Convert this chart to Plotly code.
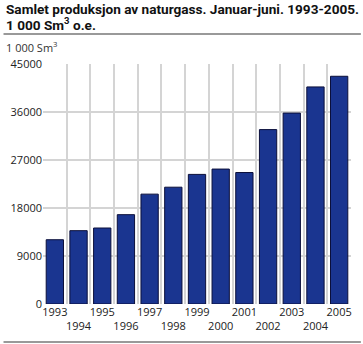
import plotly.graph_objects as go

years = ["1993", "1994", "1995", "1996", "1997", "1998", "1999",
         "2000", "2001", "2002", "2003", "2004", "2005"]
values = [12050, 13750, 14250, 16750, 20600, 21900, 24300,
          25300, 24650, 32700, 35800, 40700, 42700]
y_ticks = [0, 9000, 18000, 27000, 36000, 45000]

idx = list(range(len(years)))
ticktext = [y if i % 2 == 0 else "<br>" + y for i, y in enumerate(years)]
bounds = [i - 0.5 for i in range(len(years) + 1)]

font_family = "Open Sans, DejaVu Sans, sans-serif"
title_family = "Roboto, Open Sans, sans-serif"

fig = go.Figure()
fig.add_trace(go.Bar(
    x=idx, y=values,
    marker=dict(color="#1a3590", line=dict(color="#0b0f3a", width=1)),
    hoverinfo="skip",
))
# empty helper trace so the category-boundary grid axis is drawn
fig.add_trace(go.Scatter(x=[None], y=[None], xaxis="x2", mode="markers",
                         hoverinfo="skip", showlegend=False))

L, R, T, B = 40, 11, 64, 40
PW, PH = 363 - L - R, 344 - T - B


def px_x(px):
    return (px - L) / PW


def px_y(py):
    return (344 - B - py) / PH


fig.update_layout(
    width=363, height=344,
    margin=dict(l=L, r=R, t=T, b=B),
    paper_bgcolor="white", plot_bgcolor="white",
    showlegend=False,
    bargap=0.27,
    font=dict(family=font_family, size=11, color="#222"),
    xaxis=dict(
        range=[-0.5, len(years) - 0.5],
        tickmode="array", tickvals=idx, ticktext=ticktext, tickangle=0,
        showgrid=False, zeroline=False, showline=False, ticks="",
        tickfont=dict(size=11, color="#222"),
    ),
    xaxis2=dict(
        range=[-0.5, len(years) - 0.5], overlaying="x", side="bottom",
        anchor="y", layer="below traces",
        tickmode="array", tickvals=bounds, ticktext=["" for _ in bounds],
        showgrid=True, gridcolor="#d4d4d4", gridwidth=1.5,
        zeroline=False, showline=False, ticks="", showticklabels=False,
    ),
    yaxis=dict(
        range=[0, 45000],
        tickmode="array", tickvals=y_ticks,
        ticktext=[str(v) for v in y_ticks],
        showgrid=True, gridcolor="#d4d4d4", gridwidth=1.5,
        zeroline=False, showline=False, ticks="",
        tickfont=dict(size=11, color="#222"),
    ),
    annotations=[
        dict(text="<b>Samlet produksjon av naturgass. Januar-juni. 1993-2005.</b>",
             xref="paper", yref="paper", x=px_x(0), y=px_y(9),
             xanchor="left", yanchor="middle", showarrow=False,
             font=dict(family=title_family, size=13.6, color="#111")),
        dict(text="<b>1 000 Sm<sup>3</sup> o.e.</b>",
             xref="paper", yref="paper", x=px_x(0), y=px_y(24),
             xanchor="left", yanchor="middle", showarrow=False,
             font=dict(family=title_family, size=13.6, color="#111")),
        dict(text="1 000 Sm<sup>3</sup>", xref="paper", yref="paper",
             x=px_x(0), y=px_y(47),
             xanchor="left", yanchor="middle", showarrow=False,
             font=dict(family=font_family, size=11, color="#333")),
    ],
    shapes=[
        dict(type="line", xref="paper", yref="paper",
             x0=px_x(0), x1=px_x(362), y0=px_y(34), y1=px_y(34),
             line=dict(color="#999", width=2)),
        dict(type="line", xref="paper", yref="paper",
             x0=px_x(0), x1=px_x(362), y0=px_y(342), y1=px_y(342),
             line=dict(color="#999", width=2)),
    ],
)

fig.write_html("out.html", config={"displayModeBar": False},
               post_script="document.body.style.margin='0';document.body.style.padding='0';")
